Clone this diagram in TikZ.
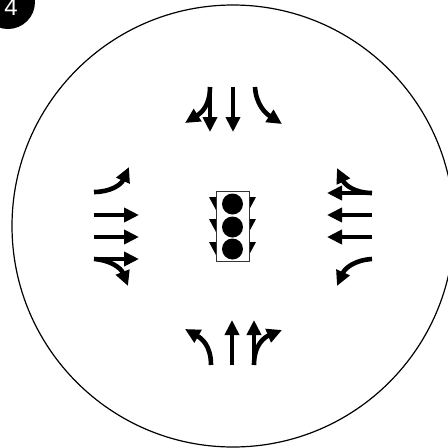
\documentclass[tikz,border=0pt]{standalone}
\usepackage{fontspec}
\setsansfont{Liberation Sans}
\usetikzlibrary{arrows.meta}
\tikzset{
  arr/.style={line width=4.6pt, line cap=butt, -{Triangle[length=15pt,width=14pt]}},
  ring/.style={line width=1.2pt},
  lamp/.style={fill=black},
  visor/.style={fill=black},
  housing/.style={draw=black!80, line width=0.9pt, fill=white}
}
\begin{document}
\begin{tikzpicture}[x=1pt,y=-1pt]
\useasboundingbox (0,0) rectangle (448,448);
\begin{scope}
\clip (0,0) rectangle (448,448);
% big circle
\draw[ring] (233,226) circle[radius=221];
% badge
\fill (8,2) circle[radius=27];
\node[text=white, font=\sffamily\fontsize{24}{24}\selectfont, anchor=base] (badge) at (11,15) {4};
\end{scope}
% top group
\draw[arr] (210,87) -- (210,132);
\draw[arr] (210,87) .. controls (210,106) and (201,113) .. (185,123);
\draw[arr] (233,87) -- (233,132);
\draw[arr] (255,87) .. controls (256,104) and (265,113) .. (282,124);
% bottom group
\draw[arr] (211,365) .. controls (211,345) and (201,338) .. (185,329);
\draw[arr] (232,365) -- (232,320);
\draw[arr] (254,365) -- (254,320);
\draw[arr] (254,365) .. controls (254,344) and (265,337) .. (282,330);
% left group
\draw[arr] (94,192) .. controls (110,192) and (121,185) .. (129,167);
\draw[arr] (94,215) -- (139,215);
\draw[arr] (94,237) -- (139,237);
\draw[arr] (94,259) -- (139,259);
\draw[arr] (94,259) .. controls (110,260) and (121,268) .. (128,286);
% right group
\draw[arr] (372,193) -- (327,193);
\draw[arr] (372,193) .. controls (355,193) and (345,185) .. (337,168);
\draw[arr] (372,215) -- (327,215);
\draw[arr] (372,237) -- (327,237);
\draw[arr] (372,259) .. controls (355,260) and (345,268) .. (337,286);
% traffic light
\foreach \y in {197,219,242}{
  \fill[visor] (209,\y) -- (216,\y) -- (216,\y+13) -- cycle;
  \fill[visor] (256,\y) -- (249,\y) -- (249,\y+13) -- cycle;
}
\draw[housing] (216,191) rectangle (249,261);
\foreach \y in {204,227,249}{
  \fill[lamp] (232.5,\y) circle[radius=10.5];
}
\end{tikzpicture}
\end{document}
